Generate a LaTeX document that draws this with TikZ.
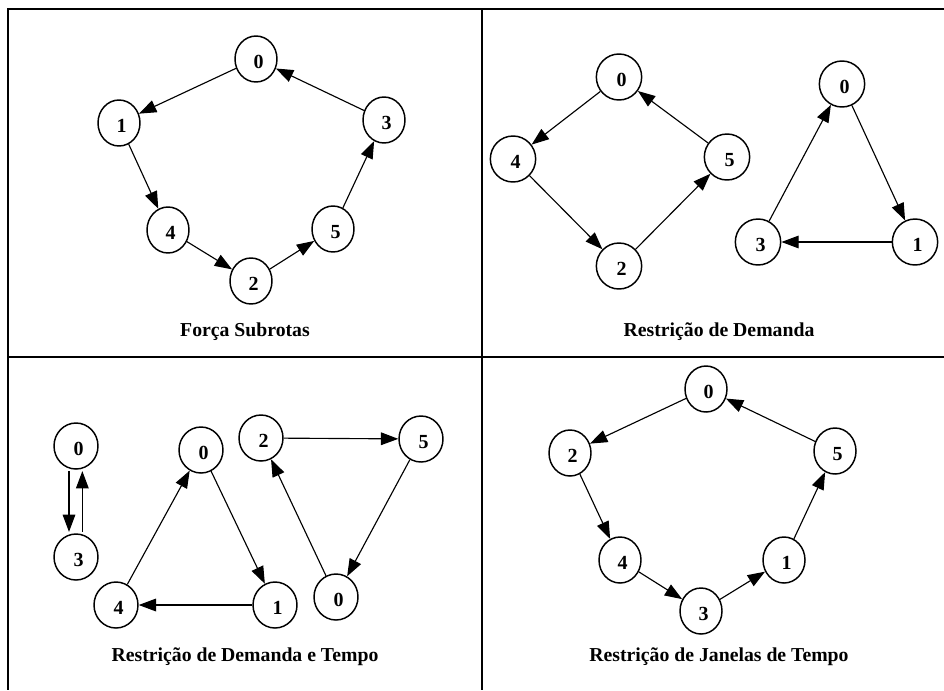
\documentclass[tikz,border=0pt]{standalone}
\usepackage{fontspec}
\setmainfont{Liberation Serif}
\usetikzlibrary{arrows.meta,shapes.geometric}
\tikzset{
  vtx/.style={ellipse,draw,line width=1.1pt,inner sep=0pt,minimum width=31.5pt,minimum height=34.5pt,
    font=\fontsize{15pt}{17pt}\selectfont\bfseries,text height=13.5pt,text depth=0pt,
    execute at begin node={\hspace*{4pt}}},
  vtxb/.style={vtx,minimum width=34pt,minimum height=34.5pt},
  vtxc/.style={vtx,minimum width=33pt,minimum height=34.5pt},
  arc/.style={line width=0.85pt,-{Triangle[length=13pt,width=9.5pt]}},
  ttl/.style={font=\fontsize{14.8pt}{17pt}\selectfont\bfseries,inner sep=0pt},
  frame/.style={line width=1.5pt}
}
\begin{document}
\begin{tikzpicture}[x=0.75pt,y=-0.75pt]
\useasboundingbox (0,0) rectangle (944,690);
% frame
\draw[frame] (944,9) -- (8,9) -- (8,690);
\draw[frame] (482,9) -- (482,690);
\draw[frame] (8,357) -- (944,357);

% Panel 1
\node[vtx] (a0) at (256,59) {0};
\node[vtx] (a1) at (119,123) {1};
\node[vtx] (a3) at (384,120) {3};
\node[vtx] (a4) at (168,230) {4};
\node[vtx] (a5) at (333,229) {5};
\node[vtx] (a2) at (251,281) {2};
\draw[arc] (a0) -- (a1);
\draw[arc] (a1) -- (a4);
\draw[arc] (a4) -- (a2);
\draw[arc] (a2) -- (a5);
\draw[arc] (a5) -- (a3);
\draw[arc] (a3) -- (a0);
\node[ttl] (t1) at (245,332) {Força Subrotas};

% Panel 2
\node[vtxb] (b0) at (619,77) {0};
\node[vtxb] (b4) at (513,159) {4};
\node[vtxb] (b5) at (727,157) {5};
\node[vtxb] (b2) at (619,266) {2};
\node[vtxb] (c0) at (842,84) {0};
\node[vtxb] (c3) at (758,242) {3};
\node[vtxb] (c1) at (915,242) {1};
\draw[arc] (b0) -- (b4);
\draw[arc] (b4) -- (b2);
\draw[arc] (b2) -- (b5);
\draw[arc] (b5) -- (b0);
\draw[arc] (c0) -- (c1);
\draw[arc] (c1) -- (c3);
\draw[arc] (c3) -- (c0);
\node[ttl] (t2) at (719,332) {Restrição de Demanda};

% Panel 3
\node[vtxc] (d0) at (76,446) {0};
\node[vtxc] (d3) at (76,557) {3};
\node[vtxc] (e4) at (116,605) {4};
\node[vtxc] (e0) at (201,450) {0};
\node[vtxc] (e1) at (275,605) {1};
\node[vtxc] (f2) at (261,438) {2};
\node[vtxc] (f5) at (421,439) {5};
\node[vtxc] (f0) at (336,597) {0};
\draw[arc] ([xshift=-5.25pt,yshift=-1pt]d0.south) -- ([xshift=-5.25pt,yshift=1pt]d3.north);
\draw[arc] ([xshift=4.75pt,yshift=1pt]d3.north) -- ([xshift=4.75pt,yshift=-1pt]d0.south);
\draw[arc] (e4) -- (e0);
\draw[arc] (e0) -- (e1);
\draw[arc] (e1) -- (e4);
\draw[arc] (f2) -- (f5);
\draw[arc] (f5) -- (f0);
\draw[arc] (f0) -- (f2);
\node[ttl] (t3) at (245,657) {Restrição de Demanda e Tempo};

% Panel 4
\node[vtx] (g0) at (706,389) {0};
\node[vtx] (g2) at (570,453) {2};
\node[vtx] (g5) at (835,451) {5};
\node[vtx] (g4) at (620,560) {4};
\node[vtx] (g1) at (784,560) {1};
\node[vtx] (g3) at (701,611) {3};
\draw[arc] (g0) -- (g2);
\draw[arc] (g2) -- (g4);
\draw[arc] (g4) -- (g3);
\draw[arc] (g3) -- (g1);
\draw[arc] (g1) -- (g5);
\draw[arc] (g5) -- (g0);
\node[ttl] (t4) at (719,657) {Restrição de Janelas de Tempo};
\end{tikzpicture}
\end{document}
